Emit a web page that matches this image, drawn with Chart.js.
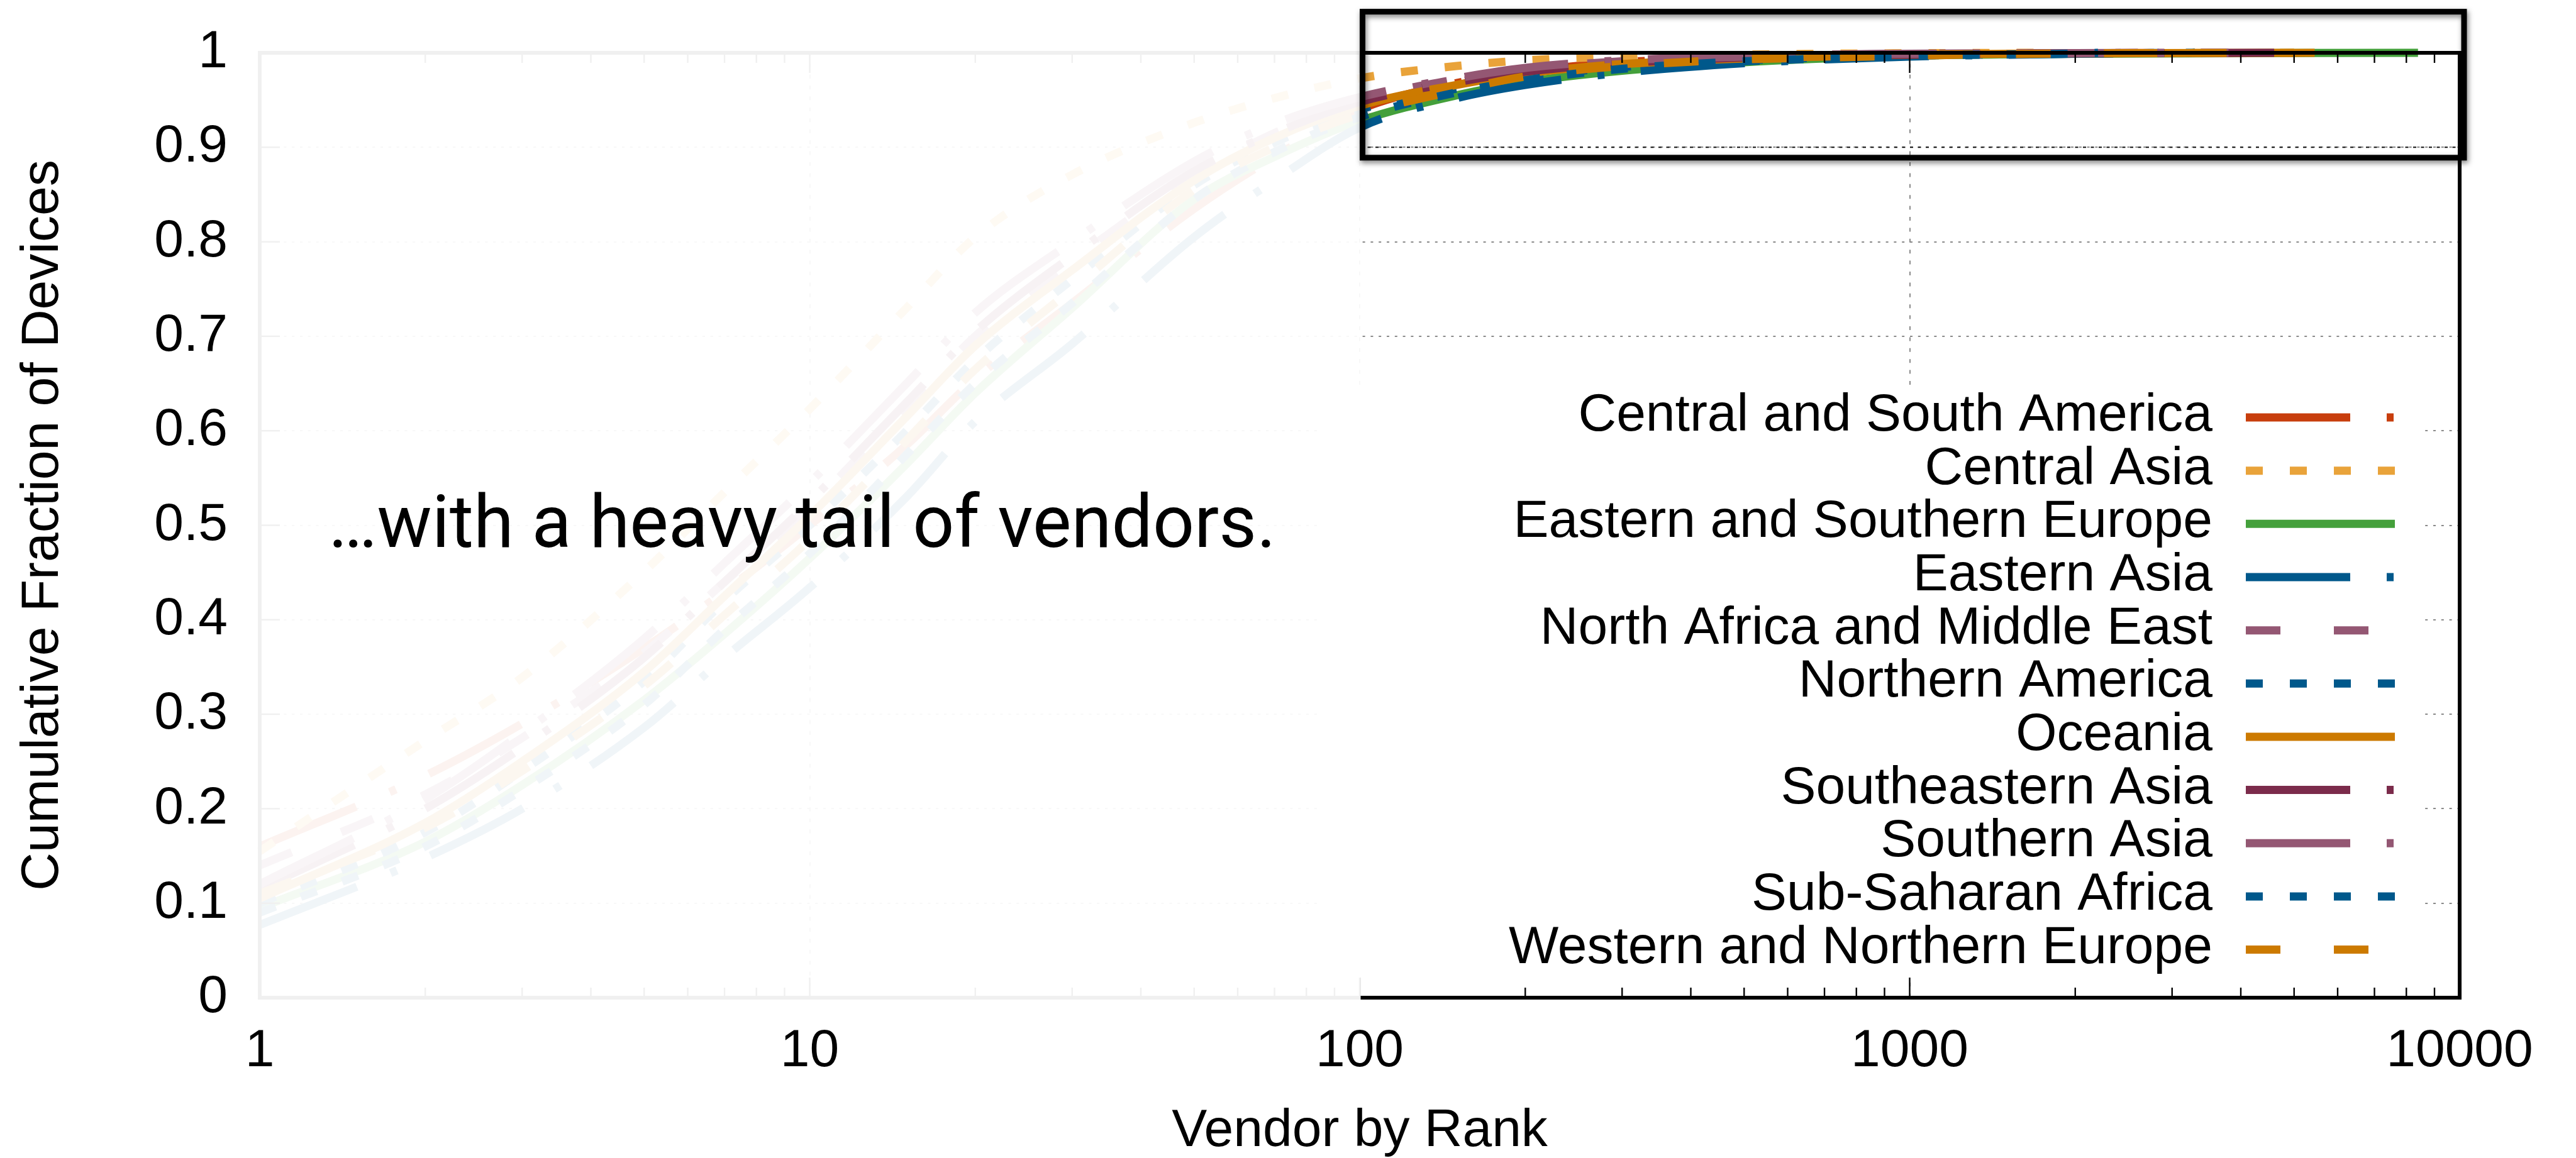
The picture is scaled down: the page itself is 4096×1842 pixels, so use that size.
<!DOCTYPE html>
<html>
<head>
<meta charset="utf-8">
<title>Cumulative Fraction of Devices by Vendor Rank</title>
<script src="https://cdn.jsdelivr.net/npm/chart.js@4.4.1/dist/chart.umd.min.js"></script>
<style>
  html, body { margin: 0; padding: 0; background: #fff; }
  #chart { display: block; }
</style>
</head>
<body>
<canvas id="chart" width="4096" height="1842"></canvas>
<script>
(function () {
    "use strict";

    // vendor ranks at which every regional CDF is sampled
    const ranks = [1, 2, 3, 5, 7, 10, 15, 20, 30, 50, 70, 100, 150, 200, 300, 500, 700, 1000, 2000];

    const regions = [
        "Central and South America",
        "Central Asia",
        "Eastern and Southern Europe",
        "Eastern Asia",
        "North Africa and Middle East",
        "Northern America",
        "Oceania",
        "Southeastern Asia",
        "Southern Asia",
        "Sub-Saharan Africa",
        "Western and Northern Europe",
    ];

    // cumulative fraction of devices covered by the top-N vendors
    const centralSouthAmerica = [0.160, 0.235, 0.290, 0.370, 0.430, 0.500, 0.585, 0.655, 0.735, 0.835, 0.890, 0.940, 0.968, 0.980, 0.990, 0.995, 0.997, 0.998, 0.9995];
    const centralAsia         = [0.155, 0.272, 0.339, 0.451, 0.535, 0.623, 0.730, 0.805, 0.871, 0.926, 0.952, 0.973, 0.986, 0.992, 0.996, 0.998, 0.999, 0.9995, null];
    const easternSouthEurope  = [0.095, 0.165, 0.225, 0.315, 0.385, 0.465, 0.565, 0.640, 0.730, 0.845, 0.890, 0.928, 0.955, 0.969, 0.981, 0.990, 0.994, 0.997, 0.999];
    const easternAsia         = [0.077, 0.148, 0.200, 0.286, 0.360, 0.434, 0.530, 0.610, 0.692, 0.805, 0.865, 0.921, 0.952, 0.966, 0.979, 0.989, 0.993, 0.996, 0.999];
    const northAfricaMidEast  = [0.140, 0.215, 0.275, 0.365, 0.440, 0.520, 0.625, 0.700, 0.780, 0.870, 0.915, 0.950, 0.972, 0.983, 0.991, 0.996, 0.998, 0.999, 0.9997];
    const northernAmerica     = [0.100, 0.175, 0.240, 0.335, 0.420, 0.500, 0.600, 0.675, 0.760, 0.860, 0.905, 0.940, 0.962, 0.974, 0.985, 0.992, 0.995, 0.997, 0.9993];
    const oceania             = [0.105, 0.185, 0.250, 0.345, 0.425, 0.510, 0.615, 0.690, 0.770, 0.865, 0.910, 0.944, 0.966, 0.978, 0.988, 0.994, 0.996, 0.998, 0.9995];
    const southeasternAsia    = [0.115, 0.200, 0.265, 0.360, 0.440, 0.525, 0.630, 0.705, 0.785, 0.875, 0.915, 0.948, 0.969, 0.980, 0.989, 0.995, 0.997, 0.998, 0.9995];
    const southernAsia        = [0.120, 0.210, 0.280, 0.380, 0.460, 0.545, 0.650, 0.725, 0.800, 0.885, 0.925, 0.953, 0.973, 0.984, 0.992, 0.996, 0.998, 0.999, 0.9997];
    const subSaharanAfrica    = [0.090, 0.160, 0.220, 0.310, 0.390, 0.470, 0.575, 0.650, 0.735, 0.845, 0.895, 0.932, 0.958, 0.971, 0.983, 0.991, 0.994, 0.997, 0.9992];
    const westernNorthEurope  = [0.110, 0.180, 0.240, 0.330, 0.405, 0.485, 0.590, 0.665, 0.750, 0.855, 0.900, 0.935, 0.960, 0.975, 0.986, 0.993, 0.995, 0.997, 0.9993];

    // rank of the last vendor seen in each region, where the CDF hits 1
    const lastRank = [3000, 1700, 8400, 3300, 2600, 3300, 5000, 4600, 3800, 2200, 6300];

    const xTickLabels = [1, 10, 100, 1000, 10000];
    const yTickStep = 0.1;

    const series = [
        centralSouthAmerica, centralAsia, easternSouthEurope, easternAsia,
        northAfricaMidEast, northernAmerica, oceania, southeasternAsia,
        southernAsia, subSaharanAfrica, westernNorthEurope,
    ];

    const DASH_DOT = [166, 58, 11, 58];
    const DOTS = [27, 43];
    const DASHES = [55, 85];
    const SOLID = [];
    const styles = [
        { color: "#c83e0d", dash: DASH_DOT },
        { color: "#e9a33a", dash: DOTS },
        { color: "#44a03b", dash: SOLID },
        { color: "#00588b", dash: DASH_DOT },
        { color: "#945773", dash: DASHES },
        { color: "#00588b", dash: DOTS },
        { color: "#cc7a00", dash: SOLID },
        { color: "#7b2b4b", dash: DASH_DOT },
        { color: "#945773", dash: DASH_DOT },
        { color: "#00588b", dash: DOTS },
        { color: "#cc7a00", dash: DASHES },
    ];

    // everything left of this rank gets washed out, the rest is boxed
    const HIGHLIGHT_FROM = 100;
    const BOX_TOP = 1.0435;
    const BOX_BOTTOM = 0.889;
    const LEGEND = { left: 2099, right: 3856, top: 623, bottom: 1553, rowY: 664, rowH: 84.66,
        textRight: 3518, lineFrom: 3571, lineTo: 3808 };

    const FONT = '"Liberation Sans", Arial, sans-serif';
    Chart.defaults.font.family = FONT;

    function points(values, end) {
        const pts = [];
        ranks.forEach((r, i) => {
            if (r < end && values[i] != null) { pts.push({ x: r, y: values[i] }); }
        });
        pts.push({ x: end, y: 1 });
        return pts;
    }

    function isDecade(v) {
        const l = Math.log10(v);
        return Math.abs(l - Math.round(l)) < 1e-9;
    }

    const rankTicks = [];
    xTickLabels.forEach((d, i) => {
        if (i === xTickLabels.length - 1) { rankTicks.push(d); return; }
        for (let m = 1; m <= 9; m++) { rankTicks.push(d * m); }
    });

    function line(ctx, x1, y1, x2, y2) {
        ctx.beginPath();
        ctx.moveTo(x1, y1);
        ctx.lineTo(x2, y2);
        ctx.stroke();
    }

    const decorations = {
        id: "decorations",
        afterDatasetsDraw(chart) {
            const { ctx, chartArea: a, scales: { x, y } } = chart;
            const split = x.getPixelForValue(HIGHLIGHT_FROM);
            ctx.save();
            ctx.lineCap = "butt";

            // 0.9 grid line shows darker inside the box
            ctx.strokeStyle = "#111";
            ctx.lineWidth = 2;
            ctx.setLineDash([5, 7.5]);
            const g = y.getPixelForValue(0.9);
            line(ctx, split, g, a.right, g);
            ctx.setLineDash([]);

            // plot frame, drawn over the curves
            ctx.strokeStyle = "#000";
            ctx.lineWidth = 6;
            ctx.strokeRect(a.left, a.top, a.right - a.left, a.bottom - a.top);

            // inward ticks: bottom and mirrored top, left only on y
            ctx.lineWidth = 2.4;
            x.ticks.forEach(t => {
                const px = x.getPixelForValue(t.value);
                const len = isDecade(t.value) ? 32 : 16;
                line(ctx, px, a.bottom, px, a.bottom - len);
                line(ctx, px, a.top, px, a.top + len);
            });
            y.ticks.forEach(t => {
                const py = y.getPixelForValue(t.value);
                line(ctx, a.left, py, a.left + 32, py);
            });

            // fade out the head of the distribution
            ctx.fillStyle = "rgba(255,255,255,0.94)";
            ctx.fillRect(a.left - 6, a.top - 6, split + 1.5 - (a.left - 6), a.bottom - a.top + 12);

            // key, opaque
            ctx.fillStyle = "#fff";
            ctx.fillRect(LEGEND.left, LEGEND.top, LEGEND.right - LEGEND.left, LEGEND.bottom - LEGEND.top);
            ctx.font = "84px " + FONT;
            ctx.textAlign = "right";
            ctx.textBaseline = "middle";
            chart.data.datasets.forEach((ds, i) => {
                const cy = LEGEND.rowY + i * LEGEND.rowH;
                ctx.fillStyle = "#000";
                ctx.fillText(ds.label, LEGEND.textRight, cy - 2);
                ctx.strokeStyle = ds.borderColor;
                ctx.lineWidth = ds.borderWidth;
                ctx.setLineDash(ds.borderDash);
                line(ctx, LEGEND.lineFrom, cy, LEGEND.lineTo, cy);
            });
            ctx.setLineDash([]);

            // highlight box around the tail
            const top = y.getPixelForValue(BOX_TOP);
            const bottom = y.getPixelForValue(BOX_BOTTOM);
            ctx.shadowColor = "rgba(0,0,0,0.5)";
            ctx.shadowBlur = 9;
            ctx.shadowOffsetX = 2;
            ctx.shadowOffsetY = 4;
            ctx.strokeStyle = "#000";
            ctx.lineWidth = 9;
            ctx.strokeRect(split + 4.5, top, a.right + 7 - split - 4.5, bottom - top);
            ctx.shadowColor = "transparent";

            ctx.font = "116px Roboto";
            ctx.textAlign = "left";
            ctx.textBaseline = "alphabetic";
            ctx.fillStyle = "#000";
            ctx.fillText("\u2026with a heavy tail of vendors.", a.left + 109, 870);
            ctx.restore();
        },
    };

    const datasets = regions.map((label, i) => ({
        label,
        data: points(series[i], lastRank[i]),
        borderColor: styles[i].color,
        borderDash: styles[i].dash,
        borderWidth: 13,
        borderCapStyle: "butt",
        pointRadius: 0,
        fill: false,
        clip: false,
        cubicInterpolationMode: "monotone",
        order: regions.length - i,
    }));

    new Chart(document.getElementById("chart"), {
        type: "line",
        data: { datasets },
        options: {
            responsive: false,
            animation: false,
            devicePixelRatio: 1,
            layout: { padding: { top: 84, right: 185, bottom: 0, left: 0 } },
            plugins: { legend: { display: false }, tooltip: { enabled: false } },
            scales: {
                x: {
                    type: "logarithmic",
                    min: 1,
                    max: 10000,
                    afterBuildTicks: scale => { scale.ticks = rankTicks.map(v => ({ value: v })); },
                    afterFit: scale => {
                        scale.height = 255;
                        scale.paddingLeft = 0;
                        scale.paddingRight = 0;
                    },
                    grid: {
                        drawTicks: false,
                        lineWidth: 2,
                        color: c => (isDecade(c.tick.value) && c.tick.value > 1 && c.tick.value < 10000)
                            ? "#8a8a8a" : "rgba(0,0,0,0)",
                    },
                    border: { display: false, dash: [6, 11.4] },
                    ticks: {
                        autoSkip: false,
                        maxRotation: 0,
                        padding: 35,
                        color: "#000",
                        font: { size: 84 },
                        callback: v => (xTickLabels.includes(v) ? String(v) : ""),
                    },
                    title: {
                        display: true,
                        text: "Vendor by Rank",
                        color: "#000",
                        font: { size: 84 },
                        padding: { top: 0, bottom: -8.4 },
                    },
                },
                y: {
                    min: 0,
                    max: 1,
                    afterFit: scale => {
                        scale.width = 413;
                        scale.paddingTop = 0;
                        scale.paddingBottom = 0;
                    },
                    grid: {
                        drawTicks: false,
                        lineWidth: 2,
                        color: c => (c.tick.value > 0.05 && c.tick.value < 0.95) ? "#8a8a8a" : "rgba(0,0,0,0)",
                    },
                    border: { display: false, dash: [4, 8.8] },
                    ticks: {
                        stepSize: yTickStep,
                        padding: 51,
                        color: "#000",
                        font: { size: 84 },
                        callback: v => String(Math.round(v * 10) / 10),
                    },
                    title: {
                        display: true,
                        text: "Cumulative Fraction of Devices",
                        color: "#000",
                        font: { size: 84 },
                        padding: { top: 18, bottom: 0 },
                    },
                },
            },
        },
        plugins: [decorations],
    });
})();
</script>
</body>
</html>
